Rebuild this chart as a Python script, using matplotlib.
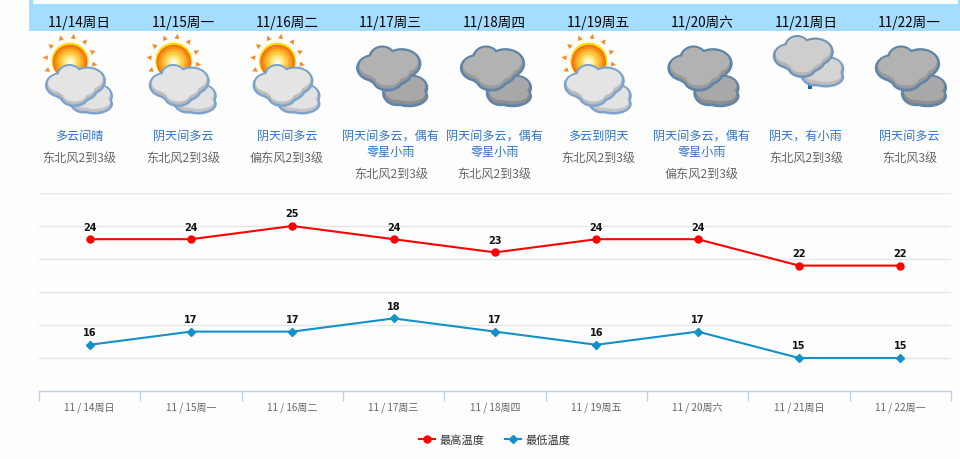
import numpy as np
import matplotlib
matplotlib.use("Agg")
import matplotlib.pyplot as plt
from matplotlib.patches import Ellipse, Rectangle, Polygon, Circle

plt.rcParams['font.family'] = ['Noto Sans CJK SC', 'DejaVu Sans']

dates = ['11/14周日', '11/15周一', '11/16周二', '11/17周三', '11/18周四',
         '11/19周五', '11/20周六', '11/21周日', '11/22周一']
conditions = ['多云间晴', '阴天间多云', '阴天间多云', '阴天间多云，偶有\n零星小雨',
              '阴天间多云，偶有\n零星小雨', '多云到阴天', '阴天间多云，偶有\n零星小雨',
              '阴天，有小雨', '阴天间多云']
winds = ['东北风2到3级', '东北风2到3级', '偏东风2到3级', '东北风2到3级', '东北风2到3级',
         '东北风2到3级', '偏东风2到3级', '东北风2到3级', '东北风3级']
icons = ['sun', 'sun', 'sun', 'dark', 'dark', 'sun', 'dark', 'rain', 'dark']
highs = [24, 24, 25, 24, 23, 24, 24, 22, 22]
lows = [16, 17, 17, 18, 17, 16, 17, 15, 15]

W, H = 960, 460
fig = plt.figure(figsize=(W / 100, H / 100), dpi=100, facecolor='#fefefe')

# page overlay in pixel coordinates
pg = fig.add_axes([0, 0, 1, 1], zorder=0)
pg.set_xlim(0, W); pg.set_ylim(H, 0); pg.axis('off')

BAND = '#a5ddff'
pg.add_patch(Rectangle((29, 5), W - 29, 27, fc=BAND, ec='none'))
pg.add_patch(Rectangle((29, 0), 4, 5, fc=BAND, ec='none'))
pg.add_patch(Rectangle((958, 0), 2, 5, fc=BAND, ec='none'))

MAIN = [(-14, -1, 28, 21), (-6, -9, 22, 21), (12, -5, 32, 24), (0, 4, 40, 21), (-1, 11, 24, 15)]
BACK = [(-9, 2, 24, 20), (5, -3, 26, 20), (2, 5, 32, 16)]


def cloud(cx, cy, lobes, edge, light, shade, scale=1.0, z=3):
    for dx, dy, w, h in lobes:
        pg.add_patch(Ellipse((cx + dx * scale, cy + dy * scale), (w + 5) * scale, (h + 5) * scale,
                             fc=edge, ec='none', zorder=z))
    for dx, dy, w, h in lobes:
        pg.add_patch(Ellipse((cx + dx * scale, cy + dy * scale), w * scale, h * scale,
                             fc=shade, ec='none', zorder=z + 0.1))
    for dx, dy, w, h in lobes:
        pg.add_patch(Ellipse((cx + dx * scale, cy + (dy - 2) * scale), w * scale * 0.96, h * scale * 0.86,
                             fc=light, ec='none', zorder=z + 0.2))


def sun(cx, cy, r=18.5):
    for a in np.arange(0, 360, 30):
        t = np.radians(a + 8)
        tip = (cx + (r + 9) * np.cos(t), cy + (r + 9) * np.sin(t))
        n = np.array([-np.sin(t), np.cos(t)]) * 2.5
        base = np.array([cx + (r + 4) * np.cos(t), cy + (r + 4) * np.sin(t)])
        pg.add_patch(Polygon([tip, base + n, base - n], fc='#f58a2a', ec='none', zorder=2))
    pg.add_patch(Circle((cx, cy), r, fc='#ffe000', ec='none', zorder=2))
    grad = [(0.93, '#f46a10'), (0.85, '#f78a18'), (0.72, '#fbab28'), (0.58, '#fdc840'),
            (0.42, '#fee070'), (0.28, '#fff0a8'), (0.14, '#fffbe0')]
    for f, c in grad:
        pg.add_patch(Circle((cx, cy + 1), r * f, fc=c, ec='none', zorder=2))


def draw_icon(kind, tx):
    if kind == 'sun':
        sun(tx - 9.5, 62)
        cloud(tx + 13, 100, BACK, '#7ba3cc', '#e2e2e2', '#c4c4c4', z=3)
        cloud(tx - 4, 87, MAIN, '#7ba3cc', '#e4e4e4', '#bdbdbd', z=4)
    elif kind == 'dark':
        cloud(tx + 16, 92, BACK, '#5f84a8', '#a8a8a8', '#8e8e8e', scale=1.05, z=3)
        cloud(tx - 2, 70, MAIN, '#5f84a8', '#b2b2b2', '#9a9a9a', scale=1.07, z=4)
    else:
        pg.add_patch(Rectangle((tx + 2, 81), 4.5, 8.5, fc='#0b6fa8', ec='none', zorder=2))
        cloud(tx + 18, 73, BACK, '#7b9fc4', '#d4d4d4', '#bcbcbc', z=3)
        cloud(tx - 2.5, 58, MAIN, '#6f94b8', '#cecece', '#b4b4b4', z=4)


for i, d in enumerate(dates):
    tx = 79.5 + 103.75 * i
    pg.text(tx, 26.5, d, ha='center', va='baseline', fontsize=9.8, color='#000000')
    draw_icon(icons[i], tx)
    two = '\n' in conditions[i]
    for j, line in enumerate(conditions[i].split('\n')):
        pg.text(tx, 140 + 16 * j, line, ha='center', va='baseline', fontsize=8.7, color='#2f74c8')
    pg.text(tx, 177.5 if two else 161.5, winds[i], ha='center', va='baseline', fontsize=8.7, color='#666666')

# chart
ax = fig.add_axes([39 / W, 1 - 392 / H, 912 / W, 198 / H], zorder=2)
ax.patch.set_alpha(0)
x = np.arange(len(dates))
ax.set_xlim(-0.5, len(dates) - 0.5)
ax.set_ylim(12.5, 27.5)
ax.set_yticks(np.arange(15, 27.6, 2.5))
ax.tick_params(axis='y', length=0, labelleft=False)
ax.grid(axis='y', color='#e3e6e8', lw=1)
ax.set_axisbelow(True)
for s in ('top', 'left', 'right'):
    ax.spines[s].set_visible(False)
ax.spines['bottom'].set_color('#c0d0e0')
ax.spines['bottom'].set_linewidth(1)
ax.set_xticks(np.arange(-0.5, len(dates)), minor=True)
ax.set_xticks(x)
ax.tick_params(axis='x', which='major', length=0, pad=13.5, labelsize=7.2, labelcolor='#666666')
ax.tick_params(axis='x', which='minor', length=7, width=1, color='#c0d0e0')
ax.set_xticklabels([d.replace('/', ' / ') for d in dates], va='baseline')

l1, = ax.plot(x, highs, color='#ff0000', lw=1.5, marker='o', ms=5, label='最高温度', clip_on=False)
l2, = ax.plot(x, lows, color='#1390c8', lw=1.5, marker='D', ms=3.6, label='最低温度', clip_on=False)
for xs, ys in ((x, highs), (x, lows)):
    for a, b in zip(xs, ys):
        ax.annotate(str(b), (a, b), xytext=(0, 5.5), textcoords='offset points', ha='center',
                    va='bottom', fontsize=7, fontweight='bold', color='#111111',
                    family=['DejaVu Sans'])

leg = fig.legend(handles=[l1, l2], loc='center', bbox_to_anchor=(495 / W, 1 - 440.5 / H), ncol=2,
                 frameon=False, fontsize=8.1, labelcolor='#333333', handlelength=1.4,
                 handletextpad=0.45, columnspacing=1.8)

fig.savefig('out.png', dpi=100, facecolor=fig.get_facecolor())
